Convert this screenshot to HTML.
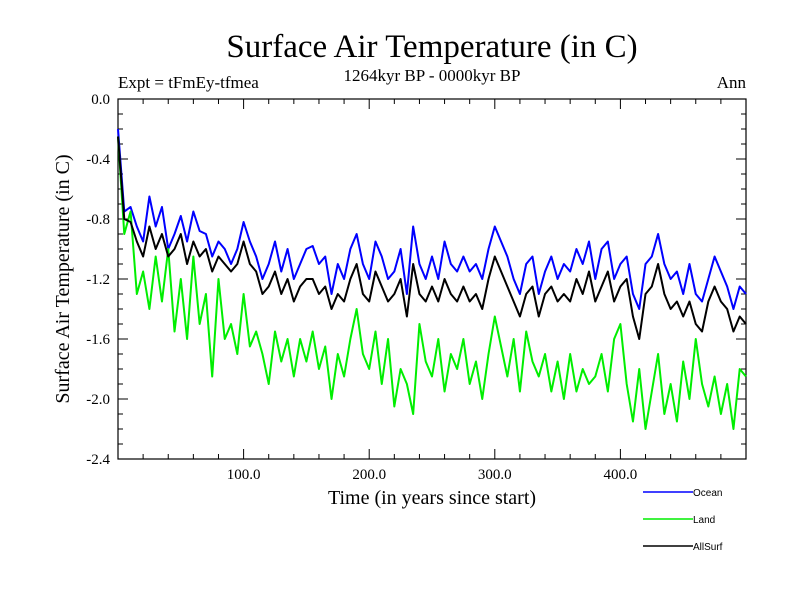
<!DOCTYPE html>
<html><head><meta charset="utf-8"><style>
body{margin:0;background:#fff}
svg text{font-family:"Liberation Serif",serif}
</style></head><body>
<svg width="800" height="600" xmlns="http://www.w3.org/2000/svg">
<text x="432" y="57" font-size="33" text-anchor="middle">Surface Air Temperature (in C)</text>
<text x="118" y="88" font-size="17">Expt = tFmEy-tfmea</text>
<text x="432" y="81" font-size="17" text-anchor="middle">1264kyr BP - 0000kyr BP</text>
<text x="746" y="88" font-size="17" text-anchor="end">Ann</text>
<text transform="translate(69,279) rotate(-90)" font-size="20" text-anchor="middle">Surface Air Temperature (in C)</text>
<text x="432" y="504" font-size="20" text-anchor="middle">Time (in years since start)</text>
<g id="axes"></g>
<g id="series"></g>
<g id="legend"></g>
</svg>
<script>
const years=[];for(let i=0;i<=100;i++)years.push(i*5);
const ocean=[-0.2,-0.75,-0.72,-0.85,-0.95,-0.65,-0.85,-0.72,-1.0,-0.9,-0.78,-0.95,-0.75,-0.88,-0.9,-1.05,-0.95,-1.0,-1.1,-1.0,-0.82,-0.95,-1.05,-1.2,-1.1,-0.95,-1.15,-1.0,-1.2,-1.1,-1.0,-0.98,-1.1,-1.05,-1.3,-1.1,-1.2,-1.0,-0.9,-1.1,-1.2,-0.95,-1.05,-1.2,-1.15,-1.0,-1.3,-0.85,-1.1,-1.2,-1.05,-1.2,-0.95,-1.1,-1.15,-1.05,-1.15,-1.1,-1.2,-1.0,-0.85,-0.95,-1.05,-1.2,-1.3,-1.1,-1.05,-1.3,-1.15,-1.05,-1.2,-1.1,-1.15,-1.0,-1.1,-0.95,-1.2,-1.0,-0.95,-1.2,-1.1,-1.05,-1.3,-1.4,-1.1,-1.05,-0.9,-1.1,-1.2,-1.15,-1.3,-1.1,-1.3,-1.35,-1.2,-1.05,-1.15,-1.25,-1.4,-1.25,-1.3];
const land=[-0.25,-0.9,-0.75,-1.3,-1.15,-1.4,-1.05,-1.35,-1.0,-1.55,-1.2,-1.6,-1.05,-1.5,-1.3,-1.85,-1.2,-1.6,-1.5,-1.7,-1.3,-1.65,-1.55,-1.7,-1.9,-1.55,-1.75,-1.6,-1.85,-1.6,-1.75,-1.55,-1.8,-1.65,-2.0,-1.7,-1.85,-1.6,-1.4,-1.7,-1.8,-1.55,-1.9,-1.6,-2.05,-1.8,-1.9,-2.1,-1.5,-1.75,-1.85,-1.6,-1.95,-1.7,-1.8,-1.6,-1.9,-1.75,-2.0,-1.7,-1.45,-1.65,-1.85,-1.6,-1.95,-1.55,-1.75,-1.85,-1.7,-1.95,-1.75,-2.0,-1.7,-1.95,-1.8,-1.9,-1.85,-1.7,-1.95,-1.6,-1.5,-1.9,-2.15,-1.8,-2.2,-1.95,-1.7,-2.1,-1.9,-2.15,-1.75,-2.0,-1.6,-1.9,-2.05,-1.85,-2.1,-1.9,-2.2,-1.8,-1.85];
const allsurf=[-0.25,-0.8,-0.82,-0.95,-1.05,-0.85,-1.0,-0.9,-1.05,-1.0,-0.9,-1.1,-0.95,-1.05,-1.0,-1.15,-1.05,-1.1,-1.15,-1.1,-0.95,-1.1,-1.15,-1.3,-1.25,-1.15,-1.3,-1.2,-1.35,-1.25,-1.2,-1.2,-1.3,-1.25,-1.4,-1.3,-1.35,-1.2,-1.1,-1.3,-1.35,-1.15,-1.25,-1.35,-1.3,-1.2,-1.45,-1.1,-1.3,-1.35,-1.25,-1.35,-1.2,-1.3,-1.35,-1.25,-1.35,-1.3,-1.4,-1.2,-1.05,-1.15,-1.25,-1.35,-1.45,-1.3,-1.25,-1.45,-1.3,-1.25,-1.35,-1.3,-1.35,-1.2,-1.3,-1.15,-1.35,-1.25,-1.15,-1.35,-1.25,-1.2,-1.45,-1.6,-1.3,-1.25,-1.1,-1.3,-1.4,-1.35,-1.45,-1.35,-1.5,-1.55,-1.35,-1.25,-1.35,-1.4,-1.55,-1.45,-1.5];
const yTicks=[0.0,-0.4,-0.8,-1.2,-1.6,-2.0,-2.4];
const yTickLabels=["0.0","-0.4","-0.8","-1.2","-1.6","-2.0","-2.4"];
const xTicks=[100,200,300,400];
const xTickLabels=["100.0","200.0","300.0","400.0"];
const NS="http://www.w3.org/2000/svg";
const L=118,R=746,T=99,B=459;
const xs=v=>L+(v/500)*(R-L);
const ys=v=>T+(0-v)/2.4*(B-T);
function mk(tag,attrs,parent){const e=document.createElementNS(NS,tag);for(const k in attrs)e.setAttribute(k,attrs[k]);parent.appendChild(e);return e;}
const axes=document.getElementById('axes');
const frame=mk('rect',{x:L,y:T,width:R-L,height:B-T,fill:'none',stroke:'#000','stroke-width':1.2},axes);


for(let i=0;i<=24;i++){const v=-i*0.1,y=ys(v),len=(i%4===0)?10:5;
 const a=mk('line',{x1:L,x2:L+len,y1:y,y2:y,stroke:'#000'},axes);
 
 
 const b=mk('line',{x1:R,x2:R-len,y1:y,y2:y,stroke:'#000'},axes);
 
 }
for(let yr=20;yr<500;yr+=20){const x=xs(yr),len=(yr%100===0)?10:5;
 const a=mk('line',{x1:x,x2:x,y1:B,y2:B-len,stroke:'#000'},axes);
 
 
 const b=mk('line',{x1:x,x2:x,y1:T,y2:T+len,stroke:'#000'},axes);
 
 }
yTicks.forEach((v,i)=>{const t=mk('text',{x:L-8,y:ys(v)+5,'font-size':15,'text-anchor':'end'},axes);t.textContent=yTickLabels[i];
 
 });
xTicks.forEach((v,i)=>{const t=mk('text',{x:xs(v),y:B+20,'font-size':15,'text-anchor':'middle'},axes);t.textContent=xTickLabels[i];
 
 });
const sg=document.getElementById('series');
function line(data,color,name){const p=mk('polyline',{points:data.map((v,i)=>xs(years[i])+','+ys(v)).join(' '),fill:'none',stroke:color,'stroke-width':2,'stroke-linejoin':'round'},sg);
 
 }
line(ocean,'#0000ff','ocean-line');
line(land,'#00ee00','land-line');
line(allsurf,'#000000','allsurf-line');
const lg=document.getElementById('legend');
[['Ocean','#0000ff',492],['Land','#00ee00',519],['AllSurf','#000000',546]].forEach(([n,c,y])=>{
 const g=mk('g',{},lg);
 
 
 mk('line',{x1:643,x2:693,y1:y,y2:y,stroke:c,'stroke-width':1.5},g);
 const t=mk('text',{x:693,y:y+4,'font-size':10,style:'font-family:"Liberation Sans",sans-serif'},g);t.textContent=n;});
</script>
</body></html>
